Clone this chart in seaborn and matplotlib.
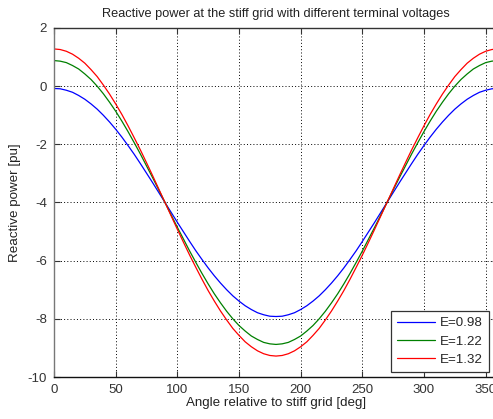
import matplotlib
matplotlib.use("Agg")
import matplotlib.pyplot as plt
import seaborn as sns
import pandas as pd

# Angle relative to the stiff grid [deg]
angle = list(range(0, 361, 5))

# Reactive power [pu] from 0 to 180 deg; the curves are mirror-symmetric about 180 deg
q_098_half = [-0.08, -0.09, -0.14, -0.21, -0.32, -0.45, -0.61, -0.79, -1.00, -1.23,
              -1.48, -1.75, -2.04, -2.34, -2.66, -2.99, -3.32, -3.66, -4.00, -4.34,
              -4.68, -5.01, -5.34, -5.66, -5.96, -6.25, -6.52, -6.77, -7.00, -7.21,
              -7.39, -7.55, -7.68, -7.79, -7.86, -7.91, -7.92]
q_122_half = [0.88, 0.86, 0.81, 0.71, 0.59, 0.42, 0.23, 0.00, -0.26, -0.55,
              -0.86, -1.20, -1.56, -1.94, -2.33, -2.74, -3.15, -3.57, -4.00, -4.43,
              -4.85, -5.26, -5.67, -6.06, -6.44, -6.80, -7.14, -7.45, -7.74, -8.00,
              -8.23, -8.42, -8.59, -8.71, -8.81, -8.86, -8.88]
q_132_half = [1.28, 1.26, 1.20, 1.10, 0.96, 0.79, 0.57, 0.33, 0.04, -0.27,
              -0.61, -0.97, -1.36, -1.77, -2.19, -2.63, -3.08, -3.54, -4.00, -4.46,
              -4.92, -5.37, -5.81, -6.23, -6.64, -7.03, -7.39, -7.73, -8.04, -8.33,
              -8.57, -8.79, -8.96, -9.10, -9.20, -9.26, -9.28]


def full_turn(half):
    """Extend 0..180 deg values to 0..360 deg using the symmetry about 180 deg."""
    return half + half[-2::-1]


series_labels = ["E=0.98", "E=1.22", "E=1.32"]
series_colors = ["#0000ff", "#008000", "#ff0000"]
x_ticks = [0, 50, 100, 150, 200, 250, 300, 350]
y_ticks = [-10, -8, -6, -4, -2, 0, 2]

frames = []
for lab, half in zip(series_labels, [q_098_half, q_122_half, q_132_half]):
    frames.append(pd.DataFrame({"angle": angle, "Q": full_turn(half), "E": lab}))
df = pd.concat(frames, ignore_index=True)

sns.set_style("ticks")
plt.rcParams["font.family"] = ["Liberation Sans", "DejaVu Sans"]
plt.rcParams["font.size"] = 9
plt.rcParams["axes.unicode_minus"] = False

fig = plt.figure(figsize=(4.93, 4.19), dpi=100)
ax = fig.add_axes([54 / 493, 42 / 419, 444 / 493, 349 / 419])

sns.lineplot(data=df, x="angle", y="Q", hue="E", palette=series_colors,
             hue_order=series_labels, linewidth=0.9, ax=ax, legend=False)

ax.set_xlim(0, 360)
ax.set_ylim(-10, 2)
ax.set_xticks(x_ticks)
ax.set_yticks(y_ticks)
ax.grid(True, color="black", linestyle=(0, (1, 2.3)), linewidth=0.7)
ax.tick_params(direction="in", length=4, top=True, right=True,
               labelsize=9.5, colors="#333333", pad=5)
for sp in ax.spines.values():
    sp.set_visible(True)
    sp.set_color("#333333")
    sp.set_linewidth(1.0)
ax.spines["left"].set_color("#777777")
ax.spines["bottom"].set_color("#111111")

ax.set_title("Reactive power at the stiff grid with different terminal voltages",
             fontsize=9.2, pad=8, color="#222222")
ax.set_xlabel("Angle relative to stiff grid [deg]", fontsize=9.6, color="#222222",
              labelpad=1)
ax.set_ylabel("Reactive power [pu]", fontsize=9.6, color="#222222", labelpad=5)

handles = [plt.Line2D([], [], color=c, linewidth=0.9) for c in series_colors]
leg = ax.legend(handles, series_labels, loc="lower right",
                bbox_to_anchor=(489 / 493, 47 / 419),
                bbox_transform=fig.transFigure, borderaxespad=0,
                fontsize=9.6, handlelength=2.85, handletextpad=0.4,
                fancybox=False, framealpha=1, edgecolor="#333333",
                labelspacing=0.45, borderpad=0.45)
leg.get_frame().set_linewidth(0.9)

fig.savefig("out.png", dpi=100)
